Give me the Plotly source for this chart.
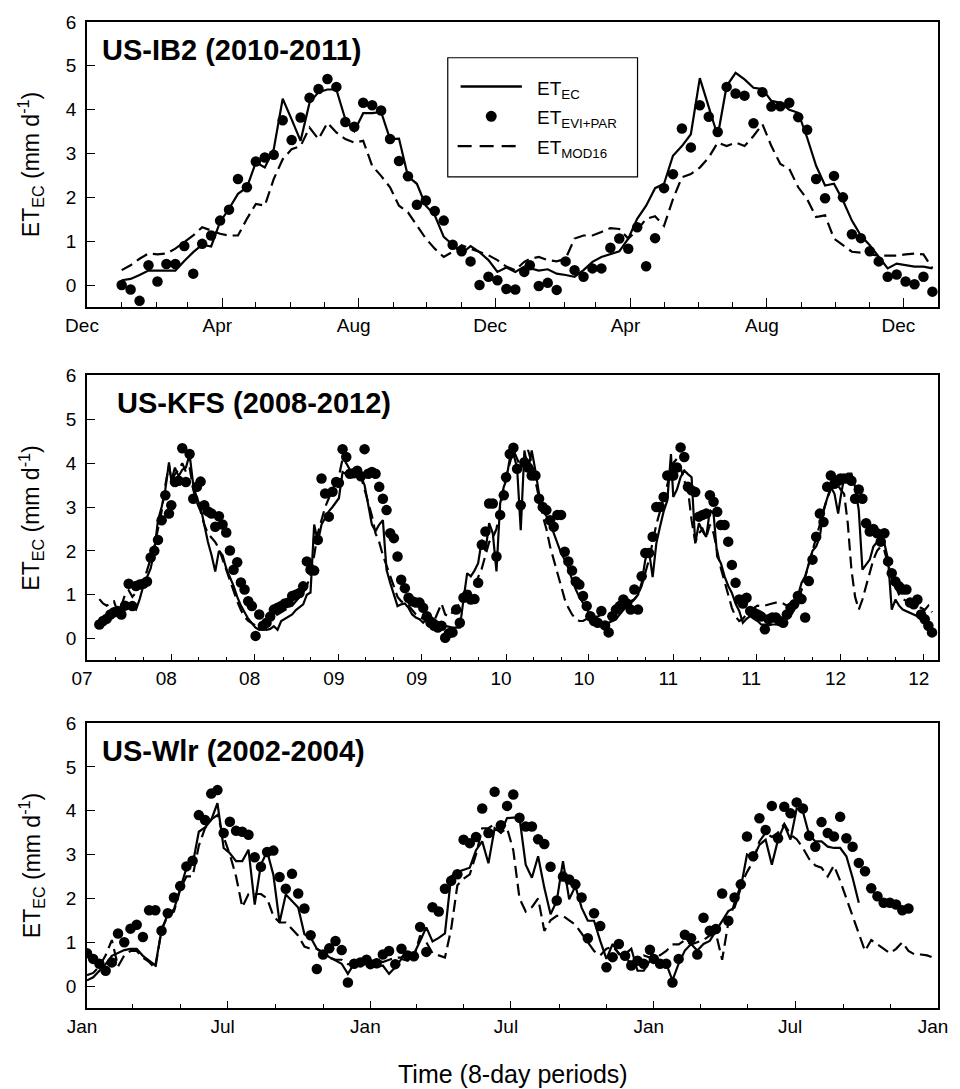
import datetime as dt
import plotly.graph_objects as go

# ---------------- DATA (8-day periods) ----------------
# US-IB2: 2010 periods 0..45, 2011 periods 0..45
IB2_EC = [0.11, 0.14, 0.23, 0.33, 0.33, 0.33, 0.33, 0.55, 0.75, 0.92,
          0.88, 1.44, 1.74, 2.08, 2.23, 2.80, 2.68, 3.10, 4.25, 3.78,
          3.29, 4.16, 4.40, 4.46, 4.46, 3.78, 3.51, 3.92, 3.92, 3.95,
          3.33, 3.34, 2.48, 2.31, 1.81, 1.59, 1.10, 0.92, 0.72, 0.89,
          0.75, 0.57, 0.30, 0.40, 0.30, 0.42,
          0.38, 0.33, 0.36, 0.26, 0.23, 0.19, 0.34, 0.53, 0.64, 0.70,
          0.77, 1.06, 1.51, 1.81, 2.21, 2.31, 2.95, 3.17, 3.44, 4.72,
          4.08, 3.40, 4.54, 4.84, 4.69, 4.50, 4.47, 4.20, 4.16, 4.00,
          3.93, 3.36, 2.72, 2.27, 2.31, 1.93, 1.47, 1.13, 0.91, 0.64,
          0.38, 0.49, 0.45, 0.42, 0.42, 0.38]
IB2_EVI = [0.00, -0.10, -0.36, 0.45, 0.08, 0.48, 0.48, 0.89, 0.26, 0.94,
           1.13, 1.47, 1.72, 2.42, 2.23, 2.82, 2.91, 2.97, 3.76, 3.31,
           3.82, 4.27, 4.47, 4.70, 4.52, 3.72, 3.61, 4.16, 4.10, 3.98,
           3.33, 2.83, 2.48, 1.83, 1.93, 1.69, 1.47, 0.92, 0.77, 0.54,
           0.00, 0.19, 0.11, -0.09, -0.10, 0.30,
           0.45, -0.02, 0.05, -0.11, 0.54, 0.34, 0.19, 0.38, 0.38, 0.85,
           1.06, 0.83, 1.32, 0.43, 1.07, 2.21, 2.53, 3.57, 3.14, 4.10,
           3.84, 3.49, 4.52, 4.37, 4.32, 3.69, 4.40, 4.07, 4.08, 4.16,
           3.83, 3.54, 2.42, 1.98, 2.49, 2.00, 1.16, 1.07, 0.77, 0.54,
           0.19, 0.24, 0.08, 0.02, 0.19, -0.15]
IB2_MOD = [0.34, 0.45, 0.60, 0.72, 0.70, 0.72, 0.83, 0.97, 1.13, 1.32,
           1.25, 1.17, 1.13, 1.13, 1.51, 1.85, 1.81, 2.42, 2.87, 3.10,
           3.17, 3.59, 3.33, 3.70, 3.48, 3.33, 3.25, 3.29, 2.72, 2.49,
           2.23, 1.81, 1.66, 1.36, 1.06, 0.83, 0.64, 0.76, 0.91, 0.83,
           0.76, 0.68, 0.57, 0.42, 0.34, 0.53,
           0.60, 0.64, 0.57, 0.54, 0.60, 1.06, 1.13, 1.13, 1.21, 1.30,
           1.28, 1.06, 1.25, 1.51, 1.57, 1.35, 1.96, 2.46, 2.53, 2.68,
           2.91, 3.25, 3.17, 3.25, 3.17, 3.40, 3.67, 3.17, 2.76, 2.65,
           2.23, 1.96, 1.55, 1.59, 1.06, 0.91, 0.76, 0.74, 0.70, 0.67,
           0.67, 0.67, 0.70, 0.72, 0.70, 0.38]

# US-KFS: 2007 periods 26..45, 2008-2011 periods 0..45, 2012 periods 0..25
KFS_EC = [0.35, 0.40, 0.45, 0.50, 0.52, 0.55, 0.60, 0.75, 0.72, 0.70,
          0.66, 0.90, 1.20, 1.40, 1.60, 2.00, 2.70, 3.00, 3.40, 4.02,
          # 2008
          3.60, 3.90, 3.70, 3.85, 3.90, 4.20, 3.50, 3.20, 3.00, 2.60,
          2.20, 1.90, 1.53, 2.00, 1.90, 1.60, 1.40, 1.20, 0.95, 0.75,
          0.60, 0.45, 0.35, 0.25, 0.20, 0.22, 0.20, 0.22, 0.28, 0.20,
          0.40, 0.45, 0.50, 0.55, 0.65, 0.72, 0.78, 1.00, 1.05, 2.60,
          2.20, 2.60, 2.75, 2.90, 3.00, 3.10,
          # 2009
          3.20, 3.80, 3.75, 3.80, 3.70, 3.75, 3.70, 3.50, 3.00, 2.60,
          2.45, 2.60, 2.70, 1.57, 1.27, 1.00, 0.74, 0.78, 0.80, 0.70,
          0.55, 0.48, 0.44, 0.36, 0.45, 0.50, 0.44, 0.38, 0.32, 0.29,
          0.27, 0.25, 0.25, 0.25, 0.89, 1.49, 1.42, 1.55, 1.72, 2.25,
          2.00, 2.63, 2.40, 1.53, 3.08, 3.46,
          # 2010
          3.60, 4.10, 4.21, 3.90, 2.47, 4.29, 3.83, 4.29, 3.83, 3.30,
          2.93, 2.80, 2.63, 2.40, 2.17, 1.95, 1.80, 1.60, 1.35, 1.12,
          0.95, 0.81, 0.65, 0.51, 0.40, 0.32, 0.29, 0.32, 0.36, 0.40,
          0.44, 0.55, 0.66, 0.75, 0.81, 0.89, 1.00, 1.27, 1.80, 2.00,
          1.40, 2.17, 2.55, 2.90, 3.15, 4.21,
          # 2011
          3.23, 3.40, 3.68, 3.83, 3.75, 3.68, 2.17, 2.63, 2.45, 2.32,
          2.93, 2.85, 1.87, 1.72, 1.42, 1.20, 1.04, 0.80, 0.63, 0.36,
          0.45, 0.51, 0.45, 0.40, 0.32, 0.32, 0.30, 0.32, 0.32, 0.34,
          0.36, 0.45, 0.51, 0.66, 1.00, 1.27, 1.42, 1.72, 2.00, 2.10,
          2.32, 2.93, 3.20, 3.46, 3.30, 2.85,
          # 2012
          3.20, 3.68, 3.76, 3.76, 3.46, 2.93, 1.57, 1.70, 1.80, 2.10,
          2.20, 2.25, 2.17, 1.80, 0.66, 0.89, 0.75, 0.66, 0.62, 0.59,
          0.55, 0.51, 0.44, 0.40, 0.21, 0.10]
KFS_EVI = [0.32, 0.40, 0.45, 0.55, 0.60, 0.63, 0.55, 0.75, 1.25, 0.74,
           1.20, 1.23, 1.25, 1.30, 1.85, 2.00, 2.25, 2.70, 3.27, 2.85,
           # 2008
           3.04, 3.57, 3.60, 4.34, 3.57, 4.21, 3.19, 3.46, 3.58, 3.04,
           2.90, 2.85, 2.55, 2.79, 2.60, 2.42, 2.01, 1.57, 1.74, 1.28,
           1.12, 0.85, 0.74, 0.06, 0.55, 0.29, 0.36, 0.50, 0.66, 0.70,
           0.74, 0.80, 0.82, 0.97, 1.00, 1.04, 1.19, 1.76, 1.57, 1.55,
           2.25, 3.65, 3.31, 2.78, 3.35, 3.57,
           # 2009
           3.55, 4.32, 4.14, 3.76, 3.77, 3.83, 3.70, 4.32, 3.76, 3.80,
           3.76, 3.46, 3.19, 2.93, 2.40, 2.29, 1.87, 1.34, 1.15, 0.93,
           0.85, 0.82, 0.82, 0.70, 0.51, 0.36, 0.29, 0.25, 0.29, 0.02,
           0.12, 0.14, 0.66, 0.36, 0.93, 1.00, 0.89, 0.90, 1.27, 2.14,
           2.44, 3.08, 3.08, 1.87, 2.82, 3.27,
           # 2010
           3.68, 4.21, 4.35, 3.87, 3.04, 4.02, 3.90, 3.72, 3.72, 3.19,
           3.00, 2.93, 2.70, 2.55, 2.82, 2.82, 1.98, 1.76, 1.55, 1.30,
           1.23, 0.97, 0.74, 0.51, 0.40, 0.36, 0.63, 0.30, 0.14, 0.51,
           0.66, 0.74, 0.89, 0.80, 0.66, 1.12, 0.66, 1.42, 1.95, 1.95,
           2.32, 3.00, 3.00, 3.23, 3.72, 3.72,
           # 2011
           3.72, 3.90, 4.36, 4.14, 3.46, 3.38, 3.34, 2.78, 2.82, 2.85,
           3.27, 3.12, 2.89, 2.59, 2.59, 2.21, 1.68, 1.27, 0.89, 0.80,
           0.93, 0.63, 0.59, 0.55, 0.50, 0.21, 0.44, 0.48, 0.48, 0.40,
           0.36, 0.55, 0.70, 0.78, 0.97, 0.90, 0.48, 1.31, 1.80, 2.32,
           2.85, 2.66, 3.46, 3.72, 3.53, 3.60,
           # 2012
           3.65, 3.65, 3.65, 3.60, 3.19, 3.40, 3.19, 2.63, 2.44, 2.50,
           2.40, 2.21, 2.40, 1.76, 1.49, 1.30, 1.19, 1.12, 1.12, 0.82,
           0.78, 0.89, 0.55, 0.44, 0.29, 0.14]
KFS_MOD = [0.90, 0.80, 0.75, 0.80, 0.85, 0.60, 0.75, 1.00, 1.10, 0.95,
           1.05, 1.20, 1.30, 1.55, 1.80, 2.10, 2.50, 2.90, 3.50, 3.95,
           # 2008
           3.60, 3.75, 3.85, 4.00, 3.80, 3.90, 3.40, 3.10, 2.90, 2.60,
           2.40, 2.30, 2.20, 2.05, 1.80, 1.55, 1.30, 1.05, 0.85, 0.65,
           0.50, 0.40, 0.35, 0.30, 0.30, 0.35, 0.40, 0.45, 0.50, 0.55,
           0.60, 0.65, 0.70, 0.75, 0.85, 0.95, 1.05, 1.20, 1.45, 1.90,
           2.40, 2.70, 3.00, 3.20, 3.40, 3.55,
           # 2009
           3.70, 4.10, 4.00, 3.85, 3.80, 3.75, 3.70, 3.40, 3.10, 2.80,
           2.40, 2.20, 1.90, 1.65, 1.40, 1.15, 0.95, 0.85, 0.80, 0.75,
           0.65, 0.55, 0.50, 0.45, 0.40, 0.35, 0.40, 0.60, 0.80, 0.55,
           0.50, 0.60, 0.70, 0.80, 0.90, 1.00, 1.10, 1.20, 1.40, 1.60,
           1.90, 2.20, 2.30, 2.50, 3.00, 3.40,
           # 2010
           3.70, 4.00, 4.30, 4.10, 3.90, 4.00, 4.30, 4.00, 3.60, 3.20,
           2.80, 2.50, 2.10, 1.80, 1.50, 1.20, 0.90, 0.70, 0.55, 0.45,
           0.40, 0.40, 0.45, 0.45, 0.50, 0.50, 0.55, 0.60, 0.60, 0.65,
           0.70, 0.70, 0.75, 0.80, 0.85, 0.90, 1.00, 1.20, 1.50, 1.80,
           2.20, 2.60, 2.90, 3.20, 3.50, 3.90,
           # 2011
           4.00, 4.10, 3.90, 3.60, 3.40, 2.70, 2.20, 2.40, 2.50, 2.30,
           2.60, 2.40, 2.00, 1.60, 1.30, 1.00, 0.70, 0.50, 0.40, 0.45,
           0.55, 0.60, 0.70, 0.75, 0.74, 0.75, 0.78, 0.80, 0.82, 0.82,
           0.80, 0.75, 0.75, 0.80, 0.90, 1.10, 1.40, 1.70, 2.00, 2.30,
           2.60, 2.90, 3.20, 3.40, 3.50, 3.50,
           # 2012
           3.40, 3.30, 2.63, 1.57, 0.95, 0.66, 0.89, 1.20, 1.50, 1.80,
           2.00, 2.10, 2.00, 1.70, 1.40, 1.20, 1.00, 0.90, 0.85, 0.80,
           0.75, 0.72, 0.70, 0.65, 0.75, 0.60]

# US-Wlr: 2002 periods 0..45, 2003 periods 0..45, 2004 periods 0..
WLR_EC = [0.13, 0.20, 0.35, 0.50, 0.69, 0.75, 0.82, 0.85, 0.85, 0.69,
          0.58, 0.47, 1.26, 1.64, 1.75, 2.24, 2.69, 2.77, 3.52, 3.62,
          3.79, 4.17, 3.15, 3.03, 2.85, 2.85, 3.11, 1.86, 2.77, 3.07,
          2.54, 1.45, 2.09, 1.94, 1.79, 1.18, 1.11, 0.85, 0.77, 0.66,
          0.58, 0.51, 0.28, 0.51, 0.47, 0.51,
          # 2003
          0.47, 0.43, 0.47, 0.28, 0.43, 0.62, 0.58, 0.73, 1.03, 1.34,
          1.02, 1.10, 1.20, 2.50, 2.60, 2.65, 2.70, 3.10, 3.30, 2.80,
          3.60, 3.50, 3.83, 3.84, 3.84, 2.77, 2.47, 2.96, 2.24, 1.64,
          1.94, 2.85, 1.98, 2.28, 1.79, 1.49, 1.49, 1.03, 0.62, 0.96,
          0.73, 0.73, 0.85, 0.35, 0.35, 0.58,
          # 2004
          0.58, 0.58, 0.51, 0.13, 0.51, 0.81, 0.96, 0.81, 0.96, 1.03,
          1.26, 1.49, 1.71, 1.79, 2.24, 3.00, 2.92, 3.22, 3.34, 2.77,
          3.34, 3.68, 3.34, 4.05, 3.98, 3.45, 3.30, 3.30, 3.18, 3.15,
          3.15, 2.96, 2.47, 1.90]
WLR_EVI = [0.75, 0.62, 0.51, 0.35, 0.54, 1.20, 1.00, 1.31, 1.40, 1.12,
           1.73, 1.73, 1.26, 1.66, 2.02, 2.28, 2.73, 2.86, 3.90, 3.79,
           4.39, 4.47, 3.49, 3.75, 3.54, 3.52, 3.45, 2.94, 2.72, 3.06,
           3.09, 2.49, 2.22, 2.56, 2.11, 1.77, 1.16, 0.39, 0.72, 0.86,
           1.03, 0.82, 0.08, 0.51, 0.54, 0.60,
           # 2003
           0.50, 0.52, 0.72, 0.80, 0.50, 0.85, 0.70, 0.68, 1.35, 0.78,
           1.80, 1.70, 2.22, 2.40, 2.55, 3.34, 3.26, 3.40, 4.05, 3.49,
           4.43, 3.67, 4.11, 4.37, 3.84, 3.64, 3.64, 3.35, 3.24, 2.72,
           1.95, 2.50, 2.43, 2.32, 2.02, 1.09, 1.66, 1.37, 0.43, 0.66,
           0.96, 0.69, 0.47, 0.58, 0.51, 0.83,
           # 2004
           0.62, 0.51, 0.51, 0.08, 0.62, 1.17, 1.09, 0.72, 1.56, 1.26,
           1.30, 2.11, 1.49, 2.02, 2.32, 3.41, 2.96, 3.83, 3.56, 4.11,
           3.37, 4.09, 3.94, 4.19, 4.05, 3.43, 3.18, 3.74, 3.49, 3.41,
           3.86, 3.37, 3.18, 2.81, 2.62, 2.23, 2.05, 1.90, 1.90, 1.86,
           1.73, 1.77]
WLR_MOD = [0.25, 0.30, 0.45, 0.70, 1.05, 0.45, 0.70, 0.80, 0.80, 0.65,
           0.55, 0.40, 1.30, 1.60, 1.70, 2.20, 2.50, 2.50, 3.20, 3.60,
           3.80, 3.90, 3.40, 3.00, 2.50, 1.80, 2.10, 2.10, 2.10, 2.00,
           1.60, 1.45, 1.45, 1.30, 1.15, 0.90, 0.85, 0.85, 0.75, 0.65,
           0.60, 0.60, 0.50, 0.50, 0.55, 0.50,
           # 2003
           0.50, 0.60, 0.55, 0.60, 0.65, 0.65, 0.80, 0.65, 1.15, 1.00,
           0.75, 0.70, 0.65, 1.30, 2.30, 2.45, 2.55, 3.00, 3.60, 3.60,
           3.70, 3.50, 3.60, 3.10, 2.00, 1.70, 1.80, 2.00, 1.26, 1.50,
           1.60, 1.60, 1.50, 1.40, 1.20, 1.00, 0.80, 0.70, 0.85, 0.90,
           0.75, 0.60, 0.55, 0.60, 0.70, 0.65,
           # 2004
           0.75, 0.70, 0.80, 0.95, 0.95, 1.05, 0.95, 1.00, 1.05, 1.15,
           1.20, 0.60, 1.45, 1.90, 2.30, 2.60, 2.85, 3.30, 3.50, 3.40,
           3.50, 3.70, 3.45, 3.35, 3.15, 2.90, 2.75, 2.70, 2.50, 2.75,
           2.40, 2.00, 1.60, 1.20, 0.80, 1.05, 0.95, 0.85, 0.75, 0.85,
           1.00, 0.80, 0.72, 0.72, 0.70, 0.65]

PANEL_TITLES = ["US-IB2 (2010-2011)", "US-KFS (2008-2012)", "US-Wlr (2002-2004)"]
SERIES_NAMES = ["ET<sub>EC</sub>", "ET<sub>EVI+PAR</sub>", "ET<sub>MOD16</sub>"]
Y_TITLE = "ET<sub>EC</sub> (mm d<sup>-1</sup>)"
X_TITLE = "Time (8-day periods)"


def period_dates(year0, k0, n):
    """Start dates of consecutive MODIS 8-day periods (46 per year)."""
    out, y, k = [], year0, k0
    for _ in range(n):
        out.append((dt.date(y, 1, 1) + dt.timedelta(days=8 * k)).isoformat())
        k += 1
        if k > 45:
            k, y = 0, y + 1
    return out


# ---------------- LAYOUT GEOMETRY ----------------
W, H = 960, 1089
ML, MR, MT, MB = 87, 12, 15, 81
PW, PH = W - ML - MR, H - MT - MB
FONT = "Liberation Sans, Arial, sans-serif"
panels_px = [(15, 302), (371, 658), (721, 1008)]  # top, bottom (px)


def py(v):
    return (H - MB - v) / PH


def px(v):
    return (v - ML) / PW


panels = [
    dict(data=(IB2_EC, IB2_EVI, IB2_MOD), start=(2010, 0),
         rng=["2009-12-01", "2012-01-01"], dtick="M4", tick0="2009-12-01",
         minor="M1", fmt="%b", tl=(9, 5), title_x=102),
    dict(data=(KFS_EC, KFS_EVI, KFS_MOD), start=(2007, 26),
         rng=["2007-07-01", "2012-08-01"], dtick="M6", tick0="2007-07-01",
         minor="M2", fmt="%y", tl=(7, 4), title_x=117),
    dict(data=(WLR_EC, WLR_EVI, WLR_MOD), start=(2002, 0),
         rng=["2002-01-01", "2005-01-01"], dtick="M6", tick0="2002-01-01",
         minor="M2", fmt="%b", tl=(7, 4), title_x=102),
]

fig = go.Figure()
annotations = []
shapes = []
layout_axes = {}

for i, p in enumerate(panels):
    n = i + 1
    xa = "x" if n == 1 else f"x{n}"
    ya = "y" if n == 1 else f"y{n}"
    ec, evi, mod = p["data"]
    y0, k0 = p["start"]
    d_ec = period_dates(y0, k0, len(ec))
    d_evi = period_dates(y0, k0, len(evi))
    d_mod = period_dates(y0, k0, len(mod))
    fig.add_trace(go.Scatter(x=d_evi, y=evi, mode="markers", name=SERIES_NAMES[1],
                             marker=dict(color="black", size=10.5), xaxis=xa, yaxis=ya,
                             showlegend=False))
    fig.add_trace(go.Scatter(x=d_mod, y=mod, mode="lines", name=SERIES_NAMES[2],
                             line=dict(color="black", width=2.2, dash="12px,6px"),
                             xaxis=xa, yaxis=ya, showlegend=False))
    fig.add_trace(go.Scatter(x=d_ec, y=ec, mode="lines", name=SERIES_NAMES[0],
                             line=dict(color="black", width=2.2),
                             xaxis=xa, yaxis=ya, showlegend=False))

    top, bot = panels_px[i]
    key_x = "xaxis" if n == 1 else f"xaxis{n}"
    key_y = "yaxis" if n == 1 else f"yaxis{n}"
    layout_axes[key_x] = dict(
        type="date", domain=[0, 1], anchor=ya, range=p["rng"],
        tickformat=p["fmt"], dtick=p["dtick"], tick0=p["tick0"],
        ticks="inside", ticklen=p["tl"][0], tickwidth=1.3, tickcolor="black",
        showline=True, mirror=True, linecolor="black", linewidth=1.5,
        showgrid=False, zeroline=False,
        tickfont=dict(family=FONT, size=19, color="black"),
        ticklabelshift=-5, ticklabelstandoff=0,
        minor=dict(ticks="inside", ticklen=p["tl"][1], dtick=p["minor"],
                   tick0=p["tick0"], tickcolor="black", tickwidth=1.3,
                   showgrid=False),
    )
    layout_axes[key_y] = dict(
        domain=[py(bot), py(top)], anchor=xa, range=[-0.5, 6], dtick=1, tick0=0,
        ticks="inside", ticklen=8, tickwidth=1.3, tickcolor="black",
        showline=True, mirror=True, linecolor="black", linewidth=1.5,
        showgrid=False, zeroline=False, ticklabelstandoff=5,
        tickfont=dict(family=FONT, size=19, color="black"),
    )
    # panel title
    annotations.append(dict(text=f"<b>{PANEL_TITLES[i]}</b>", xref="paper", yref="paper",
                            x=px(p["title_x"] - 2), y=py(top + 28), xanchor="left",
                            yanchor="middle", showarrow=False,
                            font=dict(family=FONT, size=29, color="black")))
    # y title
    annotations.append(dict(text=Y_TITLE, xref="paper", yref="paper",
                            x=px(30), y=py((top + bot) / 2), xanchor="center",
                            yanchor="middle", textangle=-90, showarrow=False,
                            font=dict(family=FONT, size=23, color="black")))

annotations.append(dict(text=X_TITLE, xref="paper", yref="paper", x=0.5, y=py(1074),
                        xanchor="center", yanchor="middle", showarrow=False,
                        font=dict(family=FONT, size=25, color="black")))

# ---------------- LEGEND (drawn box, top panel) ----------------
LEG_L, LEG_T, LEG_R, LEG_B = 452, 51, 644, 171
LEG_ROWS = [80, 110, 140]
SYM_L, SYM_R, TXT_X = 465, 527, 540
shapes.append(dict(type="rect", xref="paper", yref="paper",
                   x0=px(LEG_L), x1=px(LEG_R), y0=py(LEG_B), y1=py(LEG_T),
                   line=dict(color="black", width=1.2), fillcolor="white", layer="above"))
shapes.append(dict(type="line", xref="paper", yref="paper",
                   x0=px(SYM_L), x1=px(SYM_R), y0=py(LEG_ROWS[0]), y1=py(LEG_ROWS[0]),
                   line=dict(color="black", width=2.4), layer="above"))
shapes.append(dict(type="circle", xref="paper", yref="paper",
                   xsizemode="pixel", ysizemode="pixel",
                   xanchor=px((SYM_L + SYM_R) / 2), yanchor=py(LEG_ROWS[1]),
                   x0=-5.5, x1=5.5, y0=-5.5, y1=5.5,
                   fillcolor="black", line=dict(width=0), layer="above"))
shapes.append(dict(type="line", xref="paper", yref="paper",
                   x0=px(SYM_L - 3), x1=px(SYM_R), y0=py(LEG_ROWS[2]), y1=py(LEG_ROWS[2]),
                   line=dict(color="black", width=2.4, dash="14px,8px"), layer="above"))
for name, row in zip(SERIES_NAMES, LEG_ROWS):
    annotations.append(dict(text=name, xref="paper", yref="paper",
                            x=px(TXT_X), y=py(row + 3), xanchor="left", yanchor="middle",
                            showarrow=False,
                            font=dict(family=FONT, size=19, color="black")))

fig.update_layout(
    width=W, height=H, margin=dict(l=ML, r=MR, t=MT, b=MB),
    paper_bgcolor="white", plot_bgcolor="white",
    font=dict(family=FONT, color="black"),
    annotations=annotations, shapes=shapes, showlegend=False,
    **layout_axes,
)

fig.write_html("out.html")
